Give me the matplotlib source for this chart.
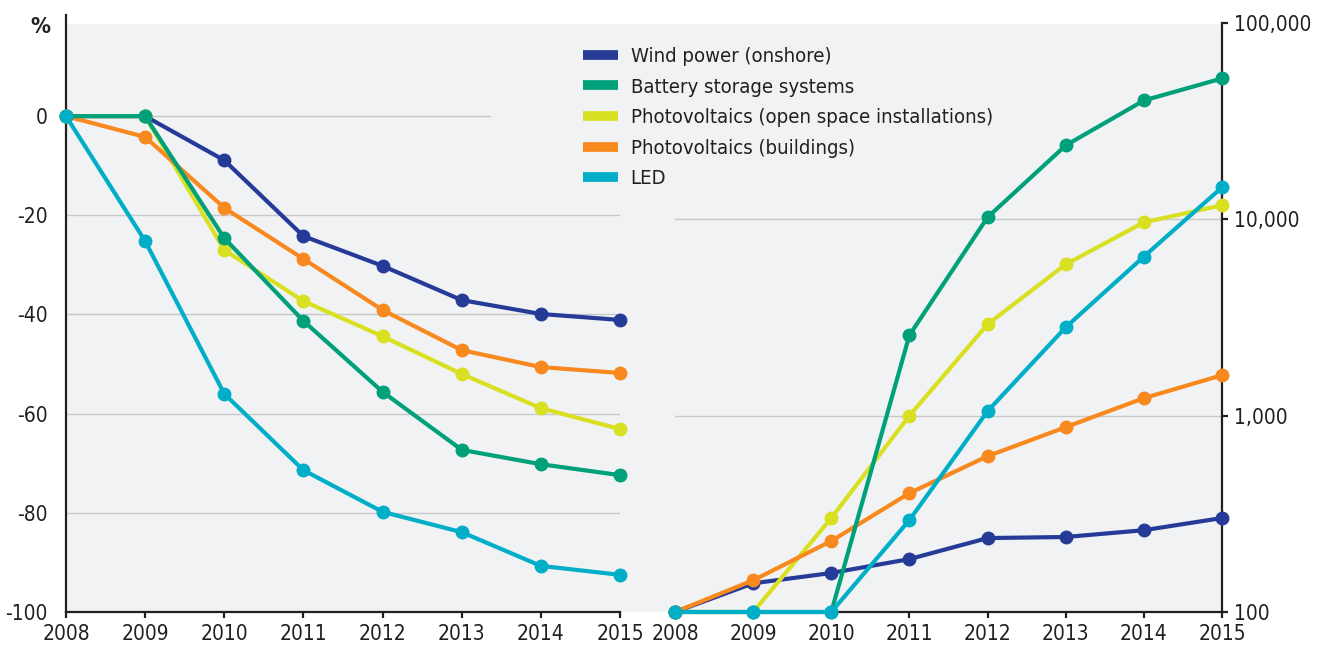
import matplotlib.pyplot as plt
from matplotlib.lines import Line2D
from matplotlib.patches import Rectangle

years = [2008, 2009, 2010, 2011, 2012, 2013, 2014, 2015]
names = ['Wind power (onshore)', 'Battery storage systems',
         'Photovoltaics (open space installations)', 'Photovoltaics (buildings)', 'LED']
colors = ['#253b97', '#00a07a', '#d9e021', '#f7891f', '#00aec7']

# price change, % against 2008
price_wind = [0, 0, -8.9, -24.2, -30.2, -37.1, -39.9, -41.1]
price_battery = [0, 0, -24.6, -41.3, -55.6, -67.3, -70.2, -72.4]
price_pv_open = [0, 0, -27.0, -37.3, -44.4, -52.0, -58.9, -63.1]
price_pv_build = [0, -4.2, -18.5, -28.8, -39.1, -47.2, -50.6, -51.8]
price_led = [0, -25.2, -56.0, -71.4, -79.8, -83.9, -90.7, -92.5]

# market volume index (log scale, 2008 = 100)
vol_wind = [100, 140, 158, 186, 238, 241, 261, 301]
vol_battery = [100, 100, 100, 2570, 10240, 23800, 40300, 52200]
vol_pv_open = [100, 100, 301, 1000, 2920, 5900, 9650, 11800]
vol_pv_build = [100, 145, 230, 403, 622, 874, 1228, 1607]
vol_led = [100, 100, 100, 294, 1054, 2820, 6460, 14550]

left_y_ticks = [0, -20, -40, -60, -80, -100]
right_y_ticks = [100, 1000, 10000, 100000]
right_y_labels = ['100', '1,000', '10,000', '100,000']

price = [price_wind, price_battery, price_pv_open, price_pv_build, price_led]
vol = [vol_wind, vol_battery, vol_pv_open, vol_pv_build, vol_led]
order = [0, 2, 3, 1, 4]  # drawing order

plt.rcParams['font.family'] = ['DejaVu Sans']
plt.rcParams['font.stretch'] = 'condensed'
ink = '#231f20'
grid = '#c8c8c8'

W, H = 1318, 645
fig = plt.figure(figsize=(W / 100, H / 100), dpi=100)
fig.patches.append(Rectangle((66 / W, (H - 612) / H), (1222 - 66) / W, (612 - 24) / H,
                             transform=fig.transFigure, facecolor='#f1f2f4',
                             edgecolor='none', zorder=-10))

ax1 = fig.add_axes([66 / W, (H - 612) / H, (620 - 66) / W, (612 - 15) / H])
ax2 = fig.add_axes([675 / W, (H - 612) / H, (1222 - 675) / W, (612 - 23) / H])

for ax in (ax1, ax2):
    ax.set_facecolor('none')
    ax.set_xlim(2008, 2015)
    ax.set_xticks(years)
    ax.set_xticklabels([str(y) for y in years])
    for s in ax.spines.values():
        s.set_linewidth(1.6)
        s.set_color(ink)
    ax.tick_params(axis='both', length=4, width=1.6, color=ink, labelsize=15,
                   labelcolor=ink, pad=5)

# left panel
ax1.set_ylim(-100, 20.4)
ax1.set_yticks(left_y_ticks)
ax1.set_yticklabels([str(t) for t in left_y_ticks])
ax1.tick_params(axis='y', length=0, pad=13)
ax1.spines['top'].set_visible(False)
ax1.spines['right'].set_visible(False)
ax1.axhline(0, xmax=(490 - 66) / (620 - 66), color=grid, lw=1, zorder=1)
for t in left_y_ticks[1:-1]:
    ax1.axhline(t, color=grid, lw=1, zorder=1)
for i in order:
    ax1.plot(years, price[i], color=colors[i], lw=3, marker='o', ms=9,
             clip_on=False, zorder=3)
fig.text(40 / W, 1 - 27 / H, '%', fontsize=16, fontweight='bold', color=ink,
         ha='center', va='center')

# right panel
ax2.set_yscale('log')
ax2.set_ylim(100, 100000)
ax2.set_yticks(right_y_ticks)
ax2.set_yticklabels(right_y_labels)
ax2.minorticks_off()
ax2.yaxis.tick_right()
ax2.spines['top'].set_visible(False)
ax2.spines['left'].set_visible(False)
for t in right_y_ticks[1:-1]:
    ax2.axhline(t, color=grid, lw=1, zorder=1)
for i in order:
    ax2.plot(years, vol[i], color=colors[i], lw=3, marker='o', ms=9,
             clip_on=False, zorder=3)

handles = [Line2D([], [], color=c, lw=7, solid_capstyle='butt') for c in colors]
fig.legend(handles, names, loc='upper left', bbox_to_anchor=(583 / W, 1 - 47 / H),
           frameon=False, fontsize=14.6, handlelength=1.75, handletextpad=0.6,
           labelspacing=0.57, borderpad=0, borderaxespad=0, labelcolor=ink)

fig.savefig('out.png', dpi=100)
